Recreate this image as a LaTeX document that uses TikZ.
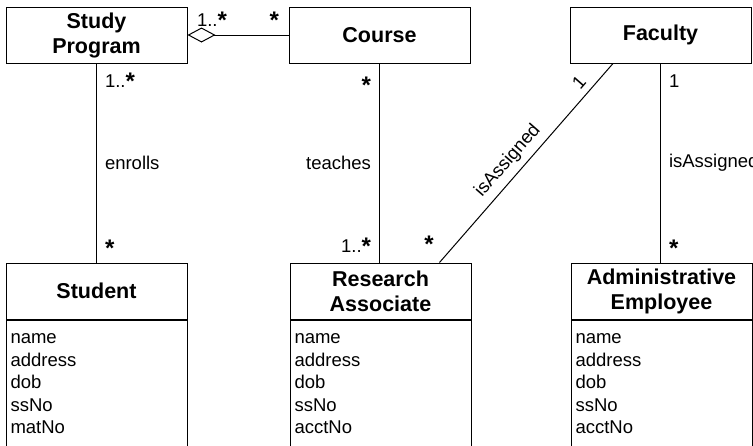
\documentclass[tikz,border=0pt]{standalone}
\usepackage{fontspec}
\setmainfont{Liberation Sans}
\usetikzlibrary{arrows.meta, positioning}
\newcommand{\many}{\raisebox{-2.5pt}{\fontsize{24}{24}\selectfont\bfseries *}}

\begin{document}
\begin{tikzpicture}[
    x=1pt, y=1pt,
    cls/.style={rectangle, draw, line width=1pt, align=center,
                minimum height=56pt, minimum width=181pt,
                font=\fontsize{21.5}{25}\selectfont\bfseries},
    attrs/.style={rectangle, draw, line width=1pt, align=left,
                  text width=172pt, inner xsep=4.5pt, inner ysep=14pt,
                  text depth=130pt, font=\fontsize{18.5}{22.5}\selectfont},
    lbl/.style={font=\fontsize{18.5}{20}\selectfont, inner sep=8pt},
    assoc/.style={line width=1pt},
]
\useasboundingbox (0,0) rectangle (753,-445);
\node[cls] (sp) at (96.5,-35) {Study\\Program};
\node[cls, right=101pt of sp] (course) {Course};
\node[cls, right=99pt of course] (fac) {Faculty};
\node[cls, below=199pt of sp] (stu) {Student};
\node[cls, below=199pt of course, xshift=1pt] (ra) {Research\\Associate};
\node[cls, below=199pt of fac, xshift=1pt] (ae) {Administrative\\Employee};
\node[attrs, below=0pt of stu] (stu-att) {name\\address\\dob\\ssNo\\matNo};
\node[attrs, below=0pt of ra] (ra-att) {name\\address\\dob\\ssNo\\acctNo};
\node[attrs, below=0pt of ae] (ae-att) {name\\address\\dob\\ssNo\\acctNo};
% associations
\draw[assoc, {Diamond[open, length=28pt, width=15pt]}-] (sp) --
    node[lbl, pos=0, above right, inner sep=6pt, xshift=3pt] {1..\many}
    node[lbl, pos=1, above left, inner sep=6pt, xshift=-3pt] {\many} (course);
\draw[assoc] (sp) --
    node[lbl, pos=.09, right] {1..\many}
    node[lbl, pos=.5, right] {enrolls}
    node[lbl, pos=.93, right] {\many} (stu);
\draw[assoc] (course) --
    node[lbl, pos=.11, left] {\many}
    node[lbl, pos=.5, left] {teaches}
    node[lbl, pos=.92, left] {1..\many} (course |- ra.north);
\draw[assoc] (fac) --
    node[lbl, pos=.09, right] {1}
    node[lbl, pos=.5, right] {isAssigned}
    node[lbl, pos=.93, right] {\many} (fac |- ae.north);
\draw[assoc] ([xshift=59pt]ra.north) --
    node[lbl, pos=.09, left=13pt] {\many}
    node[lbl, pos=.46, sloped, above, inner sep=6pt] {isAssigned}
    node[lbl, pos=.86, sloped, above, inner sep=6pt] {1} ([xshift=-47.5pt]fac.south);
\end{tikzpicture}
\end{document}
